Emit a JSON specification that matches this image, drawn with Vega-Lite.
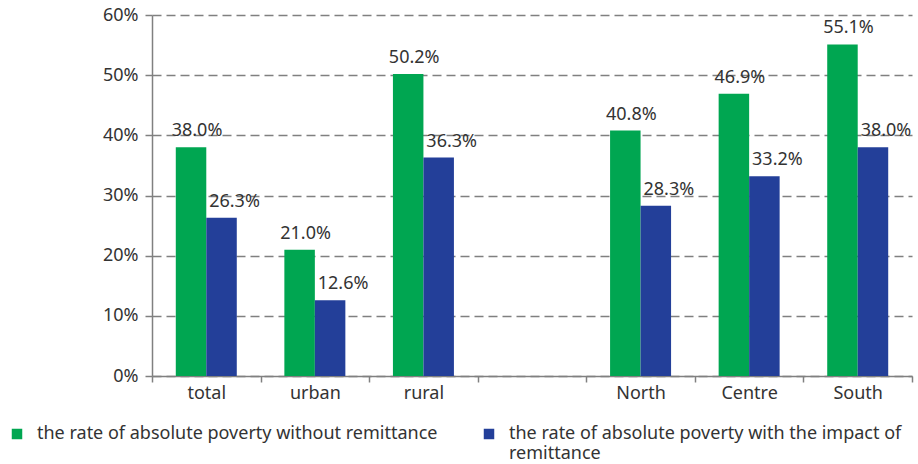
{
  "$schema": "https://vega.github.io/schema/vega-lite/v6.json",
  "width": 760,
  "height": 361,
  "autosize": {"type": "none"},
  "padding": {"left": 152, "top": 15, "right": 6, "bottom": 88},
  "background": "white",
  "config": {"font": "Noto Sans", "view": {"stroke": null}},
  "data": {
    "values": [
      {"region": "total", "series": "the rate of absolute poverty without remittance", "rate": 0.380},
      {"region": "total", "series": "the rate of absolute poverty with the impact of remittance", "rate": 0.263},
      {"region": "urban", "series": "the rate of absolute poverty without remittance", "rate": 0.210},
      {"region": "urban", "series": "the rate of absolute poverty with the impact of remittance", "rate": 0.126},
      {"region": "rural", "series": "the rate of absolute poverty without remittance", "rate": 0.502},
      {"region": "rural", "series": "the rate of absolute poverty with the impact of remittance", "rate": 0.363},
      {"region": "North", "series": "the rate of absolute poverty without remittance", "rate": 0.408},
      {"region": "North", "series": "the rate of absolute poverty with the impact of remittance", "rate": 0.283},
      {"region": "Centre", "series": "the rate of absolute poverty without remittance", "rate": 0.469},
      {"region": "Centre", "series": "the rate of absolute poverty with the impact of remittance", "rate": 0.332},
      {"region": "South", "series": "the rate of absolute poverty without remittance", "rate": 0.551},
      {"region": "South", "series": "the rate of absolute poverty with the impact of remittance", "rate": 0.380}
    ]
  },
  "encoding": {
    "x": {
      "field": "region",
      "type": "nominal",
      "scale": {"domain": ["total", "urban", "rural", " ", "North", "Centre", "South"], "paddingInner": 0, "paddingOuter": 0},
      "axis": {"title": null, "labelAngle": 0, "tickBand": "extent", "domainColor": "#808080", "domainWidth": 1.5, "tickColor": "#808080", "tickWidth": 1.5, "tickSize": 6, "labelFontSize": 18, "labelColor": "#333333", "labelPadding": 2, "grid": false}
    },
    "xOffset": {
      "field": "series",
      "type": "nominal",
      "scale": {"domain": ["the rate of absolute poverty without remittance", "the rate of absolute poverty with the impact of remittance"], "paddingInner": 0, "paddingOuter": 0.78}
    },
    "y": {
      "field": "rate",
      "type": "quantitative",
      "scale": {"domain": [0, 0.6]},
      "axis": {"title": null, "values": [0, 0.1, 0.2, 0.3, 0.4, 0.5, 0.6], "format": ".0%", "grid": true, "gridDash": [9, 5], "gridColor": "#808080", "gridWidth": 1.5, "domainColor": "#808080", "domainWidth": 1.5, "tickColor": "#808080", "tickWidth": 1.5, "tickSize": 7, "labelFontSize": 18, "labelColor": "#333333", "labelPadding": 7}
    }
  },
  "layer": [
    {
      "mark": {"type": "bar"},
      "encoding": {
        "color": {
          "field": "series",
          "type": "nominal",
          "scale": {"domain": ["the rate of absolute poverty without remittance", "the rate of absolute poverty with the impact of remittance"], "range": ["#00A651", "#233F99"]},
          "legend": {
            "title": null,
            "orient": "none",
            "legendX": -144,
            "legendY": 410,
            "direction": "horizontal",
            "columns": 2,
            "columnPadding": 42,
            "padding": 0,
            "symbolType": "square",
            "symbolSize": 110,
            "symbolStrokeWidth": 0,
            "labelFontSize": 18,
            "labelBaseline": "top",
            "labelColor": "#333333",
            "labelLimit": 520,
            "labelOffset": 11,
            "labelExpr": "datum.label == 'the rate of absolute poverty with the impact of remittance' ? ['the rate of absolute poverty with the impact of', 'remittance'] : [datum.label, ' ']",
            "encoding": {"labels": {"dy": {"value": -9}}}
          }
        }
      }
    },
    {
      "transform": [{"filter": "datum.series == 'the rate of absolute poverty without remittance'"}],
      "mark": {"type": "text", "dx": 6, "dy": -11, "baseline": "alphabetic", "fontSize": 18, "color": "#333333"},
      "encoding": {"text": {"field": "rate", "type": "quantitative", "format": ".1%"}}
    },
    {
      "transform": [{"filter": "datum.series == 'the rate of absolute poverty with the impact of remittance'"}],
      "mark": {"type": "text", "dx": 13, "dy": -11, "baseline": "alphabetic", "fontSize": 18, "color": "#333333"},
      "encoding": {"text": {"field": "rate", "type": "quantitative", "format": ".1%"}}
    }
  ]
}
